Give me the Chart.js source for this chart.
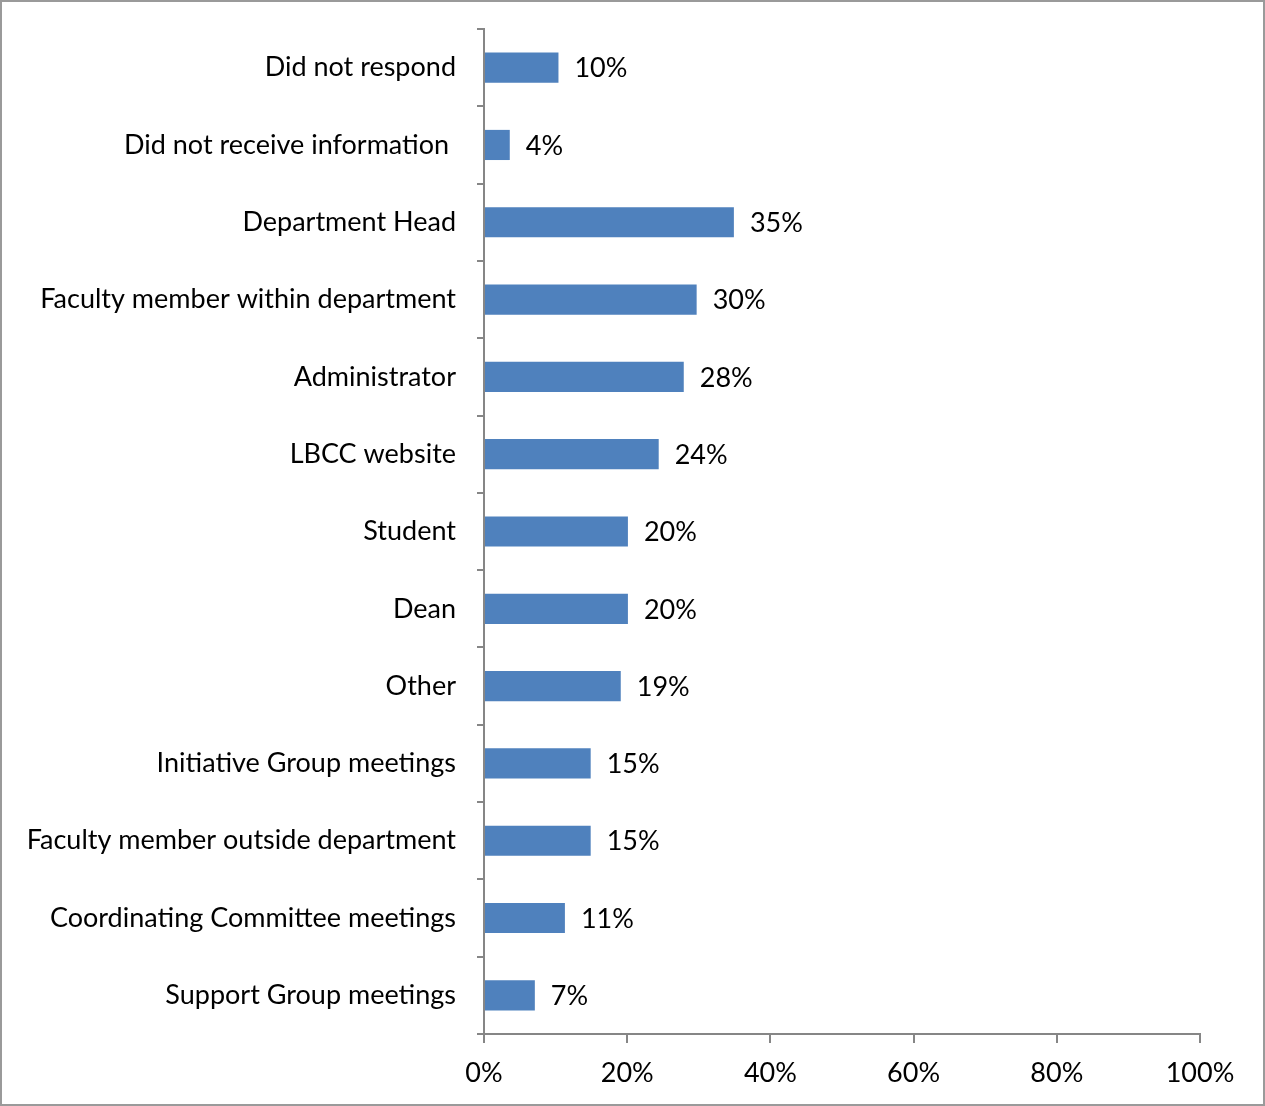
<!DOCTYPE html>
<html>
<head>
<meta charset="utf-8">
<script src="https://cdn.jsdelivr.net/npm/chart.js@4"></script>
<style>
  html, body { margin: 0; padding: 0; background: #fff; }
  #wrap { position: relative; width: 1265px; height: 1106px; }
  #frame { position: absolute; left: 0; top: 0; width: 1265px; height: 1106px;
           box-sizing: border-box; border: 2px solid #9a9a9a; pointer-events: none; }
</style>
</head>
<body>
<div id="wrap">
  <canvas id="chart" width="1265" height="1106"></canvas>
  <div id="frame"></div>
</div>
<script>
// categories, top to bottom
var categories = [
  'Did not respond',
  'Did not receive information ',
  'Department Head',
  'Faculty member within department',
  'Administrator',
  'LBCC website',
  'Student',
  'Dean',
  'Other',
  'Initiative Group meetings',
  'Faculty member outside department',
  'Coordinating Committee meetings',
  'Support Group meetings'
];
// percent of respondents
var values = [10.4, 3.6, 34.9, 29.7, 27.9, 24.4, 20.1, 20.1, 19.1, 14.9, 14.9, 11.3, 7.1];
var valueLabels = ['10%', '4%', '35%', '30%', '28%', '24%', '20%', '20%', '19%', '15%', '15%', '11%', '7%'];
var xTicks = [0, 20, 40, 60, 80, 100];

var fontFamily = 'Lato, "Open Sans", sans-serif';
var fontSize = 27;
var axisGray = '#868686';

// draws value labels just right of each bar
var barLabels = {
  id: 'barLabels',
  afterDatasetsDraw: function(chart) {
    var ctx = chart.ctx;
    var meta = chart.getDatasetMeta(0);
    ctx.save();
    ctx.font = fontSize + 'px ' + fontFamily;
    ctx.fillStyle = '#000';
    ctx.textAlign = 'left';
    ctx.textBaseline = 'middle';
    meta.data.forEach(function(bar, i) {
      ctx.fillText(valueLabels[i], bar.x + 16, bar.y + 1);
    });
    ctx.restore();
  }
};

var ctx = document.getElementById('chart').getContext('2d');
new Chart(ctx, {
  type: 'bar',
  data: {
    labels: categories,
    datasets: [{
      data: values,
      backgroundColor: '#4F81BD',
      borderWidth: 0,
      barPercentage: 0.39,
      categoryPercentage: 1
    }]
  },
  options: {
    indexAxis: 'y',
    responsive: false,
    animation: false,
    layout: { padding: { top: 29, right: 65, left: 0, bottom: 0 } },
    plugins: { legend: { display: false }, tooltip: { enabled: false } },
    scales: {
      x: {
        min: 0,
        max: 100,
        afterBuildTicks: function(scale) {
          scale.ticks = xTicks.map(function(v) { return { value: v }; });
        },
        afterFit: function(scale) { scale.height = 72; },
        border: { color: axisGray, width: 2 },
        grid: { drawOnChartArea: false, color: axisGray, lineWidth: 2, tickLength: 9 },
        ticks: {
          color: '#000',
          padding: 14,
          font: { family: fontFamily, size: fontSize },
          maxRotation: 0,
          callback: function(v) { return v + '%'; }
        }
      },
      y: {
        afterFit: function(scale) {
          scale.width = 484;
          scale.paddingTop = 0;
          scale.paddingBottom = 0;
        },
        border: { color: axisGray, width: 2 },
        grid: { drawOnChartArea: false, offset: true, color: axisGray, lineWidth: 2, tickLength: 7 },
        ticks: {
          color: '#000',
          padding: 21,
          font: { family: fontFamily, size: fontSize },
          autoSkip: false
        }
      }
    }
  },
  plugins: [barLabels]
});
</script>
</body>
</html>
